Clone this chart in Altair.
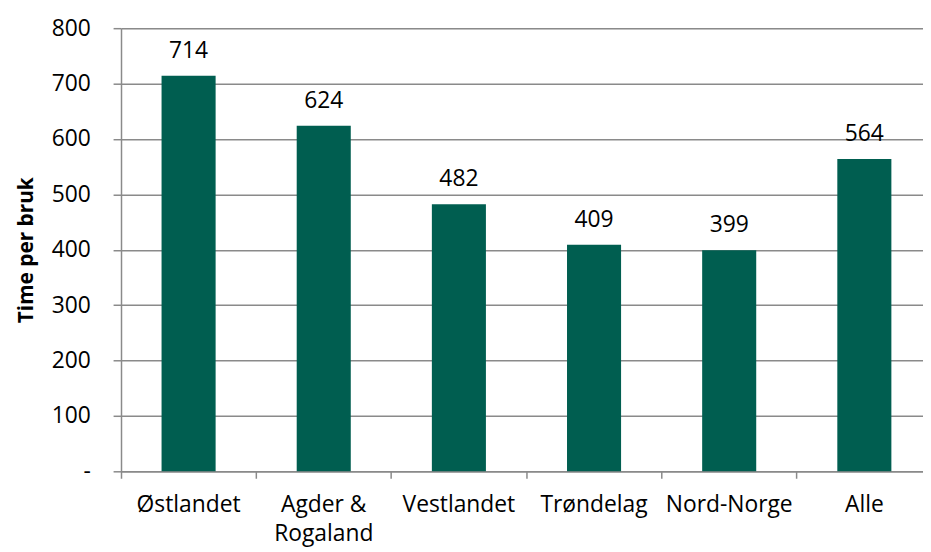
import altair as alt
import pandas as pd

regions = ["Østlandet", "Agder & Rogaland", "Vestlandet", "Trøndelag", "Nord-Norge", "Alle"]
values = [714, 624, 482, 409, 399, 564]
y_ticks = [0, 100, 200, 300, 400, 500, 600, 700, 800]

df = pd.DataFrame({"region": regions, "value": values})

FONT = "Open Sans"
GRID = "#8a8a8a"
BAR = "#005E50"
FS = 23

x_enc = alt.X(
    "region:N",
    sort=regions,
    title=None,
    scale=alt.Scale(range=[0, 818], paddingInner=0, paddingOuter=0),
    axis=alt.Axis(
        bandPosition=0,
        labelAngle=0,
        labelFontSize=FS,
        labelFont=FONT,
        labelColor="#000000",
        labelPadding=16,
        labelLineHeight=29,
        labelExpr="datum.label == 'Agder & Rogaland' ? ['Agder &', 'Rogaland'] : datum.label",
        domainColor=GRID,
        domainWidth=1.5,
        tickColor=GRID,
        tickWidth=1.5,
        tickSize=7,
        grid=False,
    ),
)

y_enc = alt.Y(
    "value:Q",
    title="Time per bruk",
    scale=alt.Scale(domain=[0, 800], nice=False),
    axis=alt.Axis(
        values=y_ticks,
        labelFontSize=FS,
        labelFont=FONT,
        labelColor="#000000",
        labelPadding=23,
        labelExpr="datum.value == 0 ? '-\u00a0\u00a0' : format(datum.value, 'd')",
        titleFont=FONT,
        titleFontSize=21,
        titleFontWeight="bold",
        titleColor="#000000",
        titlePadding=15,
        domainColor=GRID,
        domainWidth=1.5,
        tickColor=GRID,
        tickWidth=1.5,
        tickSize=8,
        gridColor=GRID,
        gridWidth=1.5,
        grid=True,
    ),
)

bars = alt.Chart(df).mark_bar(
    color=BAR, width=alt.RelativeBandSize(0.4)
).encode(x=x_enc, y=y_enc)

text = alt.Chart(df).mark_text(
    font=FONT, fontSize=FS, color="#000000", baseline="alphabetic", dy=-18
).encode(x=alt.X("region:N", sort=regions), y="value:Q", text="value:Q")

chart = (
    alt.layer(bars, text)
    .properties(
        width=809,
        height=447,
        autosize=alt.AutoSizeParams(type="none"),
        padding={"left": 114, "top": 18, "right": 0, "bottom": 76},
    )
    .configure_view(stroke=None)
    .configure(background="white")
)

chart.save("out.html", embed_options={"renderer": "svg", "actions": False})
